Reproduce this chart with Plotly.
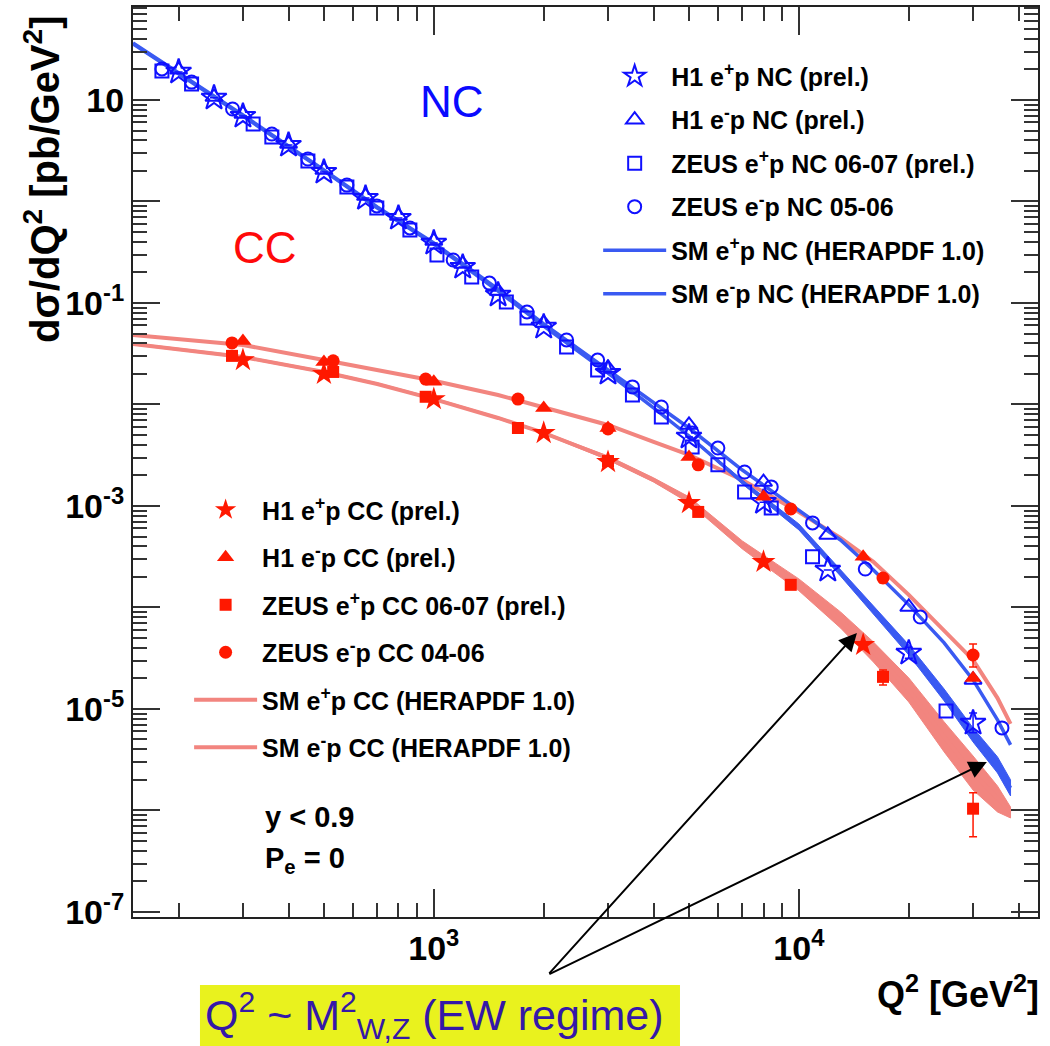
import plotly.graph_objects as go

FONT = "Liberation Sans, Arial, Helvetica, sans-serif"
BLUE_MK = "#1010ff"
BLUE_LN = "#3a5af2"
RED_MK = "#ff1800"
RED_LN = "#f2857f"

# ---------------- data ----------------
# NC measurements
h1_nc_q2 = [200, 250, 300, 400, 500, 650, 800, 1000, 1200, 1500, 2000, 3000, 5000, 8000, 12000, 20000, 30000]
h1_ep_nc = [18.9, 10.5, 6.95, 3.60, 1.95, 1.08, 0.687, 0.390, 0.226, 0.120, 0.0580, 0.0204, 0.00479, 0.00109, 2.34e-4, 3.56e-5, 7.28e-6]
h1_ep_nc_errp = [0, 0, 0, 0, 0, 0, 0, 0, 0, 0, 0, 0, 0, 0, 0, 0.5e-5, 1.86e-6]
h1_ep_nc_errm = [0, 0, 0, 0, 0, 0, 0, 0, 0, 0, 0, 0, 0, 0, 0, 0.4e-5, 1.47e-6]
h1_em_nc = [19.8, 10.7, 7.28, 3.69, 2.04, 1.13, 0.720, 0.408, 0.242, 0.131, 0.0635, 0.0229, 0.00628, 0.00172, 5.18e-4, 1.01e-4, 1.93e-5]

zeus_em_nc_q2 = [180, 217, 281, 360, 452, 578, 698, 860, 1130, 1420, 1800, 2310, 2810, 3500, 4200, 5100, 6000, 7100, 8400, 10900, 15200, 21500, 36000]
zeus_em_nc = [20.2, 15.0, 8.15, 4.62, 2.62, 1.45, 0.904, 0.548, 0.265, 0.157, 0.0815, 0.0432, 0.0274, 0.0149, 0.00944, 0.00524, 0.00372, 0.00216, 0.00154, 6.81e-4, 2.39e-4, 8.05e-5, 6.50e-6]
zeus_ep_nc_q2 = [180, 217, 320, 360, 452, 578, 698, 860, 1020, 1270, 1580, 1800, 2310, 2810, 3500, 4200, 5100, 6000, 7100, 8400, 10900, 25300]
zeus_ep_nc = [19.3, 14.4, 5.81, 4.32, 2.51, 1.39, 0.863, 0.524, 0.297, 0.180, 0.102, 0.0711, 0.0369, 0.0219, 0.0124, 0.00754, 0.00381, 0.00254, 0.00137, 9.55e-4, 3.15e-4, 9.55e-6]

# CC measurements
zeus_cc_q2 = [280, 530, 950, 1700, 3000, 5300, 9500, 17000, 30000]
zeus_em_cc = [0.0404, 0.0269, 0.0178, 0.0113, 0.00574, 0.00254, 9.33e-4, 1.95e-4, 3.40e-5]
zeus_em_cc_errp = [0, 0, 0, 0, 0, 0, 0, 0.2e-4, 0.97e-5]
zeus_em_cc_errm = [0, 0, 0, 0, 0, 0, 0, 0.2e-4, 0.81e-5]
zeus_ep_cc = [0.0301, 0.0209, 0.0119, 0.00586, 0.00277, 8.73e-4, 1.67e-4, 2.07e-5, 1.04e-6]
zeus_ep_cc_errp = [0, 0, 0, 0, 0, 0, 0, 0.35e-5, 0.45e-6]
zeus_ep_cc_errm = [0, 0, 0, 0, 0, 0, 0, 0.35e-5, 0.49e-6]
h1_em_cc_q2 = [300, 500, 1000, 2000, 3000, 5000, 8000, 15000, 30000]
h1_em_cc = [0.0423, 0.0262, 0.0167, 0.00924, 0.00586, 0.00304, 0.00123, 3.15e-4, 2.02e-5]
h1_ep_cc_q2 = [300, 500, 1000, 2000, 3000, 5000, 8000, 15000]
h1_ep_cc = [0.0274, 0.0200, 0.0113, 0.00524, 0.00271, 0.00107, 2.81e-4, 4.28e-5]

# SM (HERAPDF 1.0) predictions
sm_q2 = [150, 200, 300, 500, 700, 1000, 1500, 2000, 3000, 4000, 5000, 7000, 10000, 13000, 16000, 20000, 25000, 30000, 35000, 38000]
sm_em_nc = [36.4, 18.5, 7.11, 2.04, 0.883, 0.390, 0.137, 0.0621, 0.0219, 0.01035, 0.00586, 0.00226, 9.14e-4, 4.62e-4, 2.34e-4, 1.06e-4, 4.47e-5, 1.93e-5, 7.80e-6, 4.42e-6]
sm_ep_nc = [35.6, 18.0, 6.95, 2.00, 0.863, 0.381, 0.131, 0.0593, 0.0204, 0.00925, 0.00489, 0.00172, 6.21e-4, 2.19e-4, 9.44e-5, 3.81e-5, 1.37e-5, 5.55e-6, 2.81e-6, 1.67e-6]
sm_em_cc = [0.0484, 0.0442, 0.0386, 0.0274, 0.0219, 0.0171, 0.0124, 0.00944, 0.00628, 0.00428, 0.00318, 0.00180, 8.73e-4, 4.84e-4, 2.81e-4, 1.33e-4, 6.00e-5, 3.04e-5, 1.28e-5, 7.11e-6]
sm_ep_cc = [0.0394, 0.0352, 0.0294, 0.0209, 0.0159, 0.0113, 0.00736, 0.00524, 0.00297, 0.00180, 0.00115, 4.13e-4, 1.67e-4, 7.53e-5, 3.65e-5, 1.54e-5, 5.30e-6, 2.34e-6, 1.30e-6, 9.66e-7]
sm_ep_cc_hi = [0.0404, 0.0360, 0.0301, 0.0214, 0.0163, 0.0116, 0.00754, 0.00536, 0.00311, 0.00189, 0.00123, 4.52e-4, 1.91e-4, 9.04e-5, 4.57e-5, 2.02e-5, 7.45e-6, 3.44e-6, 1.74e-6, 1.08e-6]
sm_ep_cc_lo = [0.0386, 0.0344, 0.0287, 0.0204, 0.0156, 0.0111, 0.00720, 0.00512, 0.00284, 0.00172, 0.00107, 3.77e-4, 1.46e-4, 6.28e-5, 2.90e-5, 1.17e-5, 3.77e-6, 1.59e-6, 9.66e-7, 8.43e-7]
band_q2 = [5000, 7000, 10000, 13000, 16000, 20000, 25000, 30000, 35000, 38000]
sm_ep_nc_hi = [0.00501, 0.00180, 6.65e-4, 2.34e-4, 1.04e-4, 4.28e-5, 1.57e-5, 6.50e-6, 3.37e-6, 2.00e-6]
sm_ep_nc_lo = [0.00479, 0.00165, 5.81e-4, 2.04e-4, 8.63e-5, 3.40e-5, 1.20e-5, 4.73e-6, 2.34e-6, 1.39e-6]

# axis ticks
x_major = [1000, 10000]
x_major_text = ["10<sup>3</sup>", "10<sup>4</sup>"]
y_major = [1e-7, 1e-6, 1e-5, 1e-4, 1e-3, 1e-2, 1e-1, 1, 10]
y_major_text = ["10<sup>-7</sup>", "", "10<sup>-5</sup>", "", "10<sup>-3</sup>", "", "10<sup>-1</sup>", "", "10"]
x_minor = [k * 10 ** e for e in (2, 3, 4) for k in range(2, 10) if 150 <= k * 10 ** e <= 45000]
y_minor = [k * 10.0 ** e for e in range(-8, 2) for k in range(2, 10) if 10 ** -7.05 <= k * 10.0 ** e <= 10 ** 1.916]

fig = go.Figure()

# ---- SM curves ----
fig.add_trace(go.Scatter(
    x=sm_q2 + sm_q2[::-1], y=sm_ep_cc_hi + sm_ep_cc_lo[::-1], fill="toself",
    fillcolor=RED_LN, line=dict(color=RED_LN, width=1), mode="lines",
    showlegend=False, hoverinfo="skip"))
fig.add_trace(go.Scatter(
    x=sm_q2, y=sm_ep_cc, mode="lines", line=dict(color=RED_LN, width=4),
    name="SM e<sup>+</sup>p CC (HERAPDF 1.0)", legend="legend2", legendgroup="c5", legendrank=5))
fig.add_trace(go.Scatter(
    x=sm_q2, y=sm_em_cc, mode="lines", line=dict(color=RED_LN, width=4),
    name="SM e<sup>-</sup>p CC (HERAPDF 1.0)", legend="legend2", legendgroup="c6", legendrank=6))
fig.add_trace(go.Scatter(
    x=band_q2 + band_q2[::-1], y=sm_ep_nc_hi + sm_ep_nc_lo[::-1], fill="toself",
    fillcolor=BLUE_LN, line=dict(color=BLUE_LN, width=1), mode="lines",
    showlegend=False, hoverinfo="skip"))
fig.add_trace(go.Scatter(
    x=sm_q2, y=sm_ep_nc, mode="lines", line=dict(color=BLUE_LN, width=3.5),
    name="SM e<sup>+</sup>p NC (HERAPDF 1.0)", legend="legend", legendgroup="n5", legendrank=5))
fig.add_trace(go.Scatter(
    x=sm_q2, y=sm_em_nc, mode="lines", line=dict(color=BLUE_LN, width=3.5),
    name="SM e<sup>-</sup>p NC (HERAPDF 1.0)", legend="legend", legendgroup="n6", legendrank=6))


def err(p, m, c):
    return dict(type="data", array=p, arrayminus=m, color=c, thickness=1.5, width=4)


# ---- NC data ----
fig.add_trace(go.Scatter(
    x=zeus_ep_nc_q2, y=zeus_ep_nc, mode="markers",
    marker=dict(symbol="square-open", size=13, color=BLUE_MK, line=dict(width=2)),
    name="ZEUS e<sup>+</sup>p NC 06-07 (prel.)", legend="legend", legendgroup="n3", legendrank=3))
fig.add_trace(go.Scatter(
    x=zeus_em_nc_q2, y=zeus_em_nc, mode="markers",
    marker=dict(symbol="circle-open", size=13, color=BLUE_MK, line=dict(width=2)),
    name="ZEUS e<sup>-</sup>p NC 05-06", legend="legend", legendgroup="n4", legendrank=4))
fig.add_trace(go.Scatter(
    x=h1_nc_q2, y=h1_em_nc, mode="markers",
    marker=dict(symbol="triangle-up-open", size=15, color=BLUE_MK, line=dict(width=2)),
    name="H1 e<sup>-</sup>p NC (prel.)", legend="legend", legendgroup="n2", legendrank=2))
fig.add_trace(go.Scatter(
    x=h1_nc_q2, y=h1_ep_nc, mode="markers",
    marker=dict(symbol="star-open", size=19, color=BLUE_MK, line=dict(width=2)),
    error_y=err(h1_ep_nc_errp, h1_ep_nc_errm, BLUE_MK),
    name="H1 e<sup>+</sup>p NC (prel.)", legend="legend", legendgroup="n1", legendrank=1))

# ---- CC data ----
fig.add_trace(go.Scatter(
    x=zeus_cc_q2, y=zeus_ep_cc, mode="markers",
    marker=dict(symbol="square", size=12, color=RED_MK),
    error_y=err(zeus_ep_cc_errp, zeus_ep_cc_errm, RED_MK),
    name="ZEUS e<sup>+</sup>p CC 06-07 (prel.)", legend="legend2", legendgroup="c3", legendrank=3))
fig.add_trace(go.Scatter(
    x=zeus_cc_q2, y=zeus_em_cc, mode="markers",
    marker=dict(symbol="circle", size=13, color=RED_MK),
    error_y=err(zeus_em_cc_errp, zeus_em_cc_errm, RED_MK),
    name="ZEUS e<sup>-</sup>p CC 04-06", legend="legend2", legendgroup="c4", legendrank=4))
fig.add_trace(go.Scatter(
    x=h1_em_cc_q2, y=h1_em_cc, mode="markers",
    marker=dict(symbol="triangle-up", size=15, color=RED_MK),
    name="H1 e<sup>-</sup>p CC (prel.)", legend="legend2", legendgroup="c2", legendrank=2))
fig.add_trace(go.Scatter(
    x=h1_ep_cc_q2, y=h1_ep_cc, mode="markers",
    marker=dict(symbol="star", size=18, color=RED_MK),
    name="H1 e<sup>+</sup>p CC (prel.)", legend="legend2", legendgroup="c1", legendrank=1))

axis_common = dict(
    type="log", showgrid=False, zeroline=False, showline=True, linewidth=2, automargin=False,
    linecolor="#222", mirror="ticks", ticks="inside", tickwidth=2, tickcolor="#333",
    tickfont=dict(family=FONT, size=34, color="black", weight="bold"),
)
fig.update_xaxes(**axis_common, range=[2.176, 4.655], tickmode="array",
                 tickvals=x_major, ticktext=x_major_text, ticklen=28,
                 minor=dict(tickmode="array", tickvals=x_minor, ticks="inside",
                            ticklen=14, tickwidth=2, tickcolor="#333", showgrid=False))
fig.update_yaxes(**axis_common, range=[-7.05, 1.916], tickmode="array",
                 tickvals=y_major, ticktext=y_major_text, ticklen=27,
                 minor=dict(tickmode="array", tickvals=y_minor, ticks="inside",
                            ticklen=14, tickwidth=2, tickcolor="#333", showgrid=False))

legend_font = dict(family=FONT, size=25, color="black", weight="bold")
fig.update_layout(
    width=1050, height=1046,
    margin=dict(l=133, r=12, t=7, b=129, autoexpand=False),
    paper_bgcolor="white", plot_bgcolor="white",
    legend=dict(x=0.514, y=0.949, xanchor="left", yanchor="top", bgcolor="rgba(0,0,0,0)",
                font=legend_font, itemwidth=63, tracegroupgap=8),
    legend2=dict(x=0.062, y=0.4725, xanchor="left", yanchor="top", bgcolor="rgba(0,0,0,0)",
                 font=legend_font, itemwidth=63, tracegroupgap=12),
)

annotations = [
    dict(text="dσ/dQ<sup>2</sup> [pb/GeV<sup>2</sup>]", xref="paper", yref="paper",
         x=-0.1006, y=0.811, xanchor="center", yanchor="middle", textangle=-90, showarrow=False,
         font=dict(family=FONT, size=40, color="black", weight="bold")),
    dict(text="Q<sup>2</sup> [GeV<sup>2</sup>]", xref="paper", yref="paper",
         x=1.003, y=-0.082, xanchor="right", yanchor="middle", showarrow=False,
         font=dict(family=FONT, size=36, color="black", weight="bold")),
    dict(text="NC", xref="paper", yref="paper", x=0.3525, y=0.8967, xanchor="center", yanchor="middle",
         showarrow=False, font=dict(family=FONT, size=44, color="#0a0aff")),
    dict(text="CC", xref="paper", yref="paper", x=0.1459, y=0.7352, xanchor="center", yanchor="middle",
         showarrow=False, font=dict(family=FONT, size=44, color="#ff0a0a")),
    dict(text="y < 0.9", xref="paper", yref="paper", x=0.1436, y=0.1099, xanchor="left", yanchor="middle",
         showarrow=False, font=dict(family=FONT, size=29, color="black", weight="bold")),
    dict(text="P<sub>e</sub> = 0", xref="paper", yref="paper", x=0.1436, y=0.0626, xanchor="left",
         yanchor="middle", showarrow=False, font=dict(family=FONT, size=29, color="black", weight="bold")),
    dict(text="Q<sup>2</sup> ~ M<sup>2</sup><sub>W,Z</sub> (EW regime)", xref="paper", yref="paper",
         x=0.0773, y=-0.1077, xanchor="left", yanchor="middle", showarrow=False,
         font=dict(family=FONT, size=43, color="#3418a8")),
    dict(text="", x=4.159, y=-4.251, xref="x", yref="y", ax=-309, ay=342,
         showarrow=True, arrowhead=2, arrowsize=1.8, arrowwidth=2, arrowcolor="black"),
    dict(text="", x=4.515, y=-5.522, xref="x", yref="y", ax=-439, ay=213,
         showarrow=True, arrowhead=2, arrowsize=1.8, arrowwidth=2, arrowcolor="black"),
]
fig.update_layout(annotations=annotations)
fig.add_shape(type="rect", xref="paper", yref="paper", x0=0.074, x1=0.6044, y0=-0.1418, y1=-0.0747,
              fillcolor="#e9f21e", line=dict(width=0), layer="below")

fig.write_html("out.html", config={"displayModeBar": False},
               post_script="document.body.style.margin='0px'; document.body.style.overflow='hidden';")
